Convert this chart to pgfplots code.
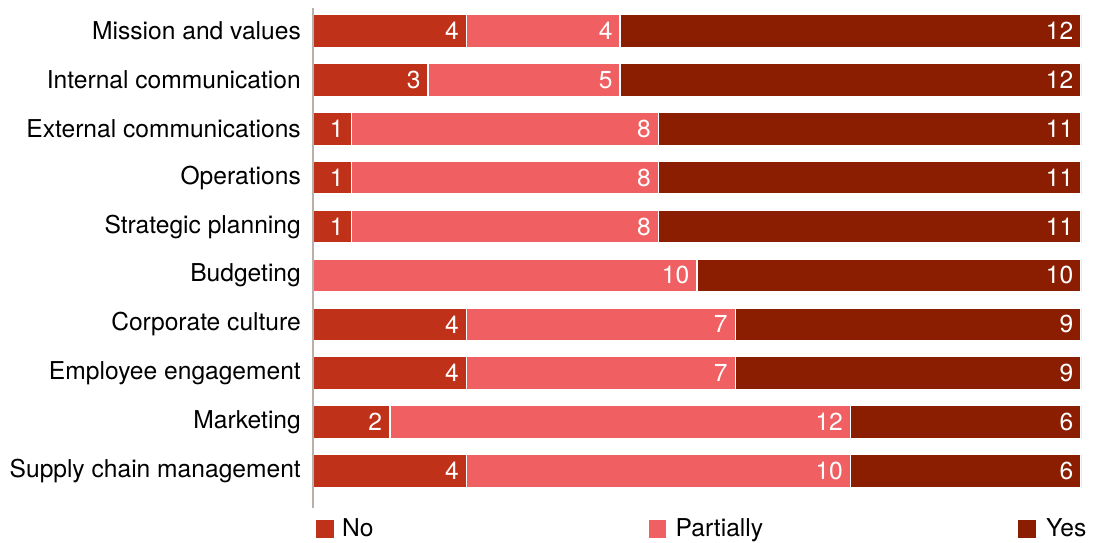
\documentclass[border=0pt]{standalone}
\usepackage{pgfplots}
\usepackage{pgfplotstable}
\pgfplotsset{compat=1.18}
\usepackage{fontspec}
\setmainfont{TeX Gyre Heros}
\definecolor{cNo}{HTML}{C0311A}
\definecolor{cPart}{HTML}{F05F61}
\definecolor{cYes}{HTML}{8B1E00}
\definecolor{axgray}{HTML}{B8B0AA}
\pgfplotstableread{
y no nol part partl yes yesl
0 4 4 10 10 6 6
1 2 2 12 12 6 6
2 4 4 7 7 9 9
3 4 4 7 7 9 9
4 0 {} 10 10 10 10
5 1 1 8 8 11 11
6 1 1 8 8 11 11
7 1 1 8 8 11 11
8 3 3 5 5 12 12
9 4 4 4 4 12 12
}\datatable
\begin{document}
\begin{tikzpicture}
\path[use as bounding box] (0,0) rectangle (1097pt,542pt);
\begin{axis}[
  at={(313pt,34pt)}, anchor=south west,
  scale only axis, width=768pt, height=500pt,
  xbar stacked, bar width=33pt,
  xmin=0, xmax=20, ymin=-0.757, ymax=9.47,
  axis on top,
  axis x line=none,
  axis y line*=left,
  y axis line style={draw=axgray, line width=2pt},
  ytick={0,...,9},
  yticklabels={Supply chain management,Marketing,Employee engagement,Corporate culture,Budgeting,Strategic planning,Operations,External communications,Internal communication,Mission and values},
  major tick length=0pt,
  yticklabel style={font=\fontsize{24.6}{29}\selectfont, inner sep=0pt, xshift=-12pt},
  point meta=explicit symbolic,
  visualization depends on={rawx \as \rawx},
  nodes near coords,
  nodes near coords style={font=\fontsize{24.6}{29}\selectfont, text=white, anchor=east, inner sep=0pt, xshift={\rawx*19.2pt-7pt}},
  legend columns=3,
  legend style={at={(0.002,-0.042)}, anchor=west, draw=none, fill=none, inner sep=0pt,
    nodes={inner sep=0pt, font=\fontsize{24.6}{29}\selectfont}, column sep=0pt},
  legend image code/.code={\fill[#1] (0pt,-10pt) rectangle (19pt,9pt);},
]
\addplot[fill=cNo, draw=white, line width=1.5pt] table[x=no, y=y, meta=nol] {\datatable};
\addplot[fill=cPart, draw=white, line width=1.5pt] table[x=part, y=y, meta=partl] {\datatable};
\addplot[fill=cYes, draw=white, line width=1.5pt] table[x=yes, y=y, meta=yesl] {\datatable};
\legend{\makebox[312pt][l]{\hspace{7pt}No},\makebox[349pt][l]{\hspace{8pt}Partially},\hspace{9pt}Yes}
\end{axis}
\end{tikzpicture}
\end{document}
